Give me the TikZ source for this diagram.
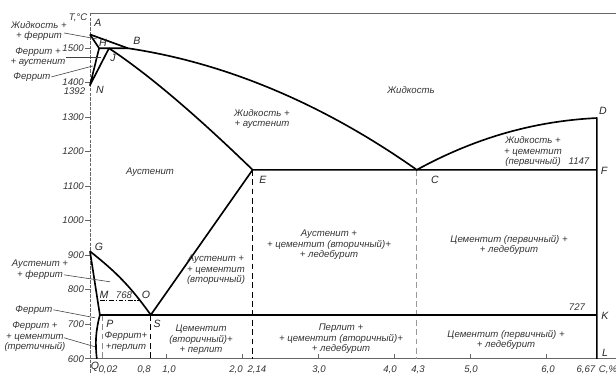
\documentclass[tikz,border=0pt]{standalone}
\usepackage{fontspec}
\newfontfamily\lblfont{Liberation Sans}

\tikzset{
  phase/.style={line width=1.4pt, line join=round},
  axisline/.style={black!60, line width=0.6pt},
  dropline/.style={line width=0.9pt, dash pattern=on 5pt off 3pt},
  leader/.style={black!75, line width=0.5pt},
  lbl/.style={font=\lblfont\itshape\fontsize{8.2}{9}\selectfont, text=black!80, align=center, inner sep=0.5pt},
  tick/.style={font=\lblfont\itshape\fontsize{8.2}{9}\selectfont, text=black!80, inner sep=0.5pt},
  pt/.style={font=\lblfont\itshape\fontsize{9}{10}\selectfont, text=black!85, inner sep=0.5pt}
}

\begin{document}
\begin{tikzpicture}[x=2.28cm,y=0.010368cm]
\useasboundingbox (-1.184,556.6) rectangle (6.921,1638.8);

% axes
\draw[axisline] (0,1601.2) -- (6.921,1601.2);
\draw[axisline, dash pattern=on 3pt off 1pt] (0,1601.2) -- (0,556.6);
\draw[axisline] (-0.066,600) -- (6.921,600);
\foreach \t in {600,700,...,1500} {
  \draw[axisline] (-0.066,\t) -- (0,\t);
  \node[tick, anchor=east] (y\t) at (-0.07,\t) {\t};
}
\node[tick, anchor=east] (y1392) at (-0.053,1374) {1392};
\node[tick, anchor=east] (taxis) at (-0.026,1586.7) {T,°C};
\foreach \c in {1,...,6}
  \draw[axisline] (\c,600) -- (\c,614);
\foreach \c/\t [count=\i] in {0.237/{0,02},0.711/{0,8},1.039/{1,0},1.921/{2,0},2.197/{2,14},3.013/{3,0},3.947/{4,0},4.316/{4,3},5.013/{5,0},6.026/{6,0},6.526/{6,67},6.816/{C,\%}}
  \node[tick, anchor=north] (xl\i) at (\c,581) {\t};

% points
\coordinate (A) at (0,1539);
\coordinate (H) at (0.12,1499);
\coordinate (J) at (0.25,1499);
\coordinate (B) at (0.5,1499);
\coordinate (N) at (0,1392);
\coordinate (D) at (6.67,1297);
\coordinate (E) at (2.14,1147);
\coordinate (C) at (4.3,1147);
\coordinate (F) at (6.67,1147);
\coordinate (G) at (0,911);
\coordinate (M) at (0.13,768);
\coordinate (O) at (0.645,768);
\coordinate (P) at (0.13,727);
\coordinate (S) at (0.8,727);
\coordinate (K) at (6.67,727);
\coordinate (Q) at (0.09,600);
\coordinate (L) at (6.67,600);
\coordinate (E0) at (2.14,600);
\coordinate (C0) at (4.3,600);
\coordinate (S0) at (0.8,600);
\coordinate (P1) at (0.158,727);
\coordinate (P0) at (0.158,600);

% drop lines
\draw[dropline] (E) -- (E0);
\draw[dropline] (S) -- (S0);
\draw[dropline, black!40] (C) -- (C0);
\draw[dropline, black!45, line width=0.7pt] (P1) -- (P0);
\draw[line width=0.7pt, dash pattern=on 4pt off 1.5pt on 1pt off 1.5pt] (M) -- (O);

% phase boundaries
\draw[phase] (A) -- (B) .. controls (1.776,1457.3) and (3.066,1338.7) .. (C)
  .. controls (5.043,1236.6) and (5.816,1287.8) .. (D) -- (L);
\draw[phase] (A) -- (H) -- (B);
\draw[phase] (H) -- (N) -- (J);
\draw[phase] (J) .. controls (0.76,1425) and (1.388,1307.5) .. (E) -- (F);
\draw[phase] (G) to[bend left=8] (S) -- (E);
\draw[phase] (G) -- (P) to[bend right=10] (Q);
\draw[phase] (P) -- (K);

% point letters
\node[pt] (lA) at (0.105,1572.2) {A};
\node[pt] (lH) at (0.171,1514.3) {H};
\node[pt] (lB) at (0.618,1520.1) {B};
\node[pt] (lJ) at (0.303,1470.9) {J};
\node[pt] (lN) at (0.132,1378.4) {N};
\node[pt] (lD) at (6.75,1317.6) {D};
\node[pt] (lF) at (6.763,1144) {F};
\node[pt] (lC) at (4.539,1117.9) {C};
\node[pt] (lE) at (2.276,1117.9) {E};
\node[pt] (lK) at (6.776,724.4) {K};
\node[pt] (lL) at (6.776,617.4) {L};
\node[pt] (lG) at (0.118,924.1) {G};
\node[pt] (lM) at (0.184,785) {M};
\node[tick] (t768) at (0.447,785) {768};
\node[pt] (lO) at (0.737,785) {O};
\node[pt] (lP) at (0.263,700.5) {P};
\node[pt] (lS) at (0.882,700.5) {S};
\node[pt] (lQ) at (0.066,576.9) {Q};
\node[tick] (t1147) at (6.434,1172.9) {1147};
\node[tick] (t727) at (6.408,750.5) {727};

% region labels
\node[lbl] (liquid) at (4.224,1378.4) {Жидкость};
\node[lbl] (liqaus) at (2.263,1294.4) {Жидкость +\\+ аустенит};
\node[lbl] (austen) at (0.789,1141.1) {Аустенит};
\node[lbl] (liqcem) at (5.829,1199) {Жидкость +\\+ цементит\\(первичный)};
\node[lbl] (auscemled) at (3.145,929.9) {Аустенит +\\+ цементит (вторичный)+\\+ ледебурит};
\node[lbl] (auscem) at (1.658,857.5) {Аустенит +\\+ цементит\\(вторичный)};
\node[lbl] (cemledup) at (5.513,929.9) {Цементит (первичный) +\\+ ледебурит};
\node[lbl] (cemleddn) at (5.474,655) {Цементит (первичный) +\\+ ледебурит};
\node[lbl] (percemled) at (3.303,657.9) {Перлит +\\+ цементит (вторичный)+\\+ ледебурит};
\node[lbl] (cemper) at (1.461,655) {Цементит\\(вторичный)+\\+ перлит};
\node[lbl] (ferper) at (0.474,650) {Феррит+\\+перлит};

% labels on the left with leaders
\node[lbl] (liqfer) at (-0.671,1549.1) {Жидкость +\\+ феррит};
\coordinate (liqferT) at (0.092,1525.9);
\draw[leader] (-0.342,1543.3) -- (liqferT);
\node[lbl] (feraus) at (-0.684,1473.8) {Феррит +\\+ аустенит};
\coordinate (ferausT) at (0.145,1473.8);
\draw[leader] (feraus.east) -- (ferausT);
\node[lbl] (ferhi) at (-0.763,1416) {Феррит};
\coordinate (ferhiT) at (0.039,1447.8);
\draw[leader] (ferhi.east) -- (ferhiT);
\node[lbl] (ausfer) at (-0.658,857.5) {Аустенит +\\+ феррит};
\coordinate (ausferT) at (0.263,822.8);
\draw[leader] (-0.342,843) -- (ausferT);
\node[lbl] (ferlo) at (-0.737,741.8) {Феррит};
\coordinate (ferloT) at (0.066,718.6);
\draw[leader] (ferlo.east) -- (ferloT);
\node[lbl] (fercem) at (-0.724,663.7) {Феррит +\\+ цементит\\(третичный)};
\coordinate (fercemT) at (0.066,634.7);
\draw[leader] (-0.342,660.8) -- (fercemT);
\end{tikzpicture}
\end{document}
